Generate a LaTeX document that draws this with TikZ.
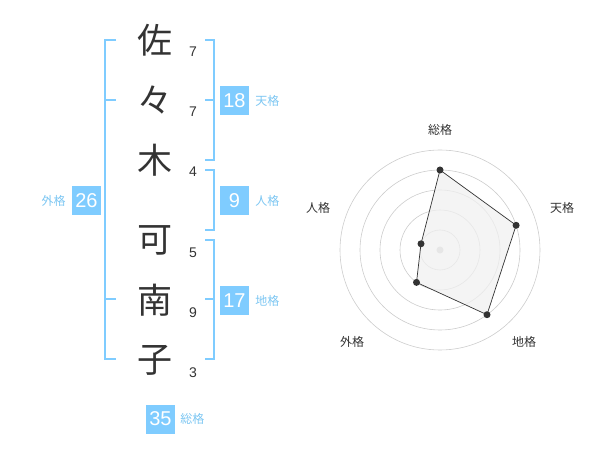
\documentclass[tikz,border=0pt]{standalone}
\usepackage{fontspec}
\setmainfont{Liberation Sans}
\newfontfamily\jp{Noto Sans CJK JP}
\definecolor{kaku}{HTML}{7FCCFF}
\definecolor{kakutext}{HTML}{7CC6F2}
\definecolor{ink}{HTML}{333333}
\definecolor{ring}{HTML}{CCCCCC}

\begin{document}
\begin{tikzpicture}[x=1pt, y=-1pt,
    kanji/.style={font=\jp\fontsize{35}{35}\selectfont, text=ink, inner sep=0pt},
    strokes/.style={font=\fontsize{14}{14}\selectfont, text=ink, inner sep=0pt},
    numbox/.style={fill=kaku, text=white, minimum size=29pt, inner sep=0pt, font=\fontsize{20}{20}\selectfont},
    kakulabel/.style={text=kakutext, font=\jp\fontsize{12}{12}\selectfont, inner sep=0pt},
    bracket/.style={draw=kaku, line width=2pt},
    axislabel/.style={text=ink, font=\jp\fontsize{12}{12}\selectfont, inner sep=0pt},
    vertex/.style={circle, fill=ink, minimum size=7pt, inner sep=0pt}]
      \useasboundingbox (0,0) rectangle (600,470);

      % Name
      \node[kanji] (sa) at (155,40) {佐};
      \node[kanji] (noma) at (155,100) {々};
      \node[kanji] (ki) at (155,160) {木};
      \node[kanji] (ka) at (155,240) {可};
      \node[kanji] (na) at (155,300) {南};
      \node[kanji] (ko) at (155,360) {子};

      % Strokes
      \node[strokes] (s1) at (193,52) {7};
      \node[strokes] (s2) at (193,112) {7};
      \node[strokes] (s3) at (193,172) {4};
      \node[strokes] (s4) at (193,253) {5};
      \node[strokes] (s5) at (193,313) {9};
      \node[strokes] (s6) at (193,373) {3};

      % Brackets
      \draw[bracket] (116,40) -- (105,40) -- (105,359) -- (116,359);
      \draw[bracket] (105,100) -- (116,100);
      \draw[bracket] (105,299) -- (116,299);
      \draw[bracket] (205,40) -- (214,40) -- (214,160) -- (205,160);
      \draw[bracket] (205,100) -- (214,100);
      \draw[bracket] (205,170) -- (214,170) -- (214,230) -- (205,230);
      \draw[bracket] (205,240) -- (214,240) -- (214,359) -- (205,359);
      \draw[bracket] (205,299) -- (214,299);

      % Scores
      \node[numbox] (ten) at (234.5,100.5) {18};
      \node[kakulabel, anchor=west] at (ten.east) [xshift=6pt] {天格};
      \node[numbox] (jin) at (234.5,200.5) {9};
      \node[kakulabel, anchor=west] at (jin.east) [xshift=6pt] {人格};
      \node[numbox] (chi) at (234.5,300.5) {17};
      \node[kakulabel, anchor=west] at (chi.east) [xshift=6pt] {地格};
      \node[numbox] (gai) at (86.5,200.5) {26};
      \node[kakulabel, anchor=east] at (gai.west) [xshift=-6pt] {外格};
      \node[numbox] (sou) at (160.5,419) {35};
      \node[kakulabel, anchor=west] at (sou.east) [xshift=5pt] {総格};

      % Radar
      \begin{scope}[shift={(440,250)}]
        \foreach \r in {20,40,60,80,100}
          \draw[ring, line width=0.6pt] (0,0) circle (\r);
        \fill[ring] (0,0) circle (3.5);
        \coordinate (pSou) at (0,-80);
        \coordinate (pTen) at (76.1,-24.7);
        \coordinate (pChi) at (47.0,64.7);
        \coordinate (pGai) at (-23.5,32.4);
        \coordinate (pJin) at (-19.0,-6.2);
        \draw[fill=gray!12, fill opacity=0.75, draw=ink, line width=0.7pt]
          (pSou) -- (pTen) -- (pChi) -- (pGai) -- (pJin) -- cycle;
        \foreach \p in {pSou,pTen,pChi,pGai,pJin}
          \node[vertex] at (\p) {};
        \node[axislabel] (lSou) at (0,-120) {総格};
        \node[axislabel] (lTen) at (122,-42) {天格};
        \node[axislabel] (lChi) at (84,92) {地格};
        \node[axislabel] (lGai) at (-88,92) {外格};
        \node[axislabel] (lJin) at (-122,-42) {人格};
      \end{scope}
    \end{tikzpicture}
\end{document}
